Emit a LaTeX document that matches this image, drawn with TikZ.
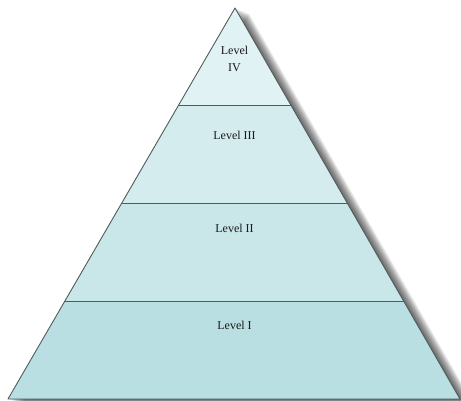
\documentclass[tikz,border=0pt]{standalone}
\usepackage{fontspec}
\setmainfont{Liberation Serif}
\usetikzlibrary{calc}

\definecolor{tierIV}{HTML}{E1F2F4}
\definecolor{tierIII}{HTML}{D5ECEE}
\definecolor{tierII}{HTML}{C9E6E9}
\definecolor{tierI}{HTML}{B9DFE2}
\definecolor{edgegray}{HTML}{4F5B5C}

\begin{document}
\begin{tikzpicture}[
    x=1pt, y=1pt,
    band/.style={draw=edgegray, line width=0.9pt, line join=round},
    tier/.style={font=\fontsize{12}{17}\selectfont, text=black!90, align=center, inner sep=0pt}
  ]
  \useasboundingbox (0,0) rectangle (461,401);

  % --- CANTOS DA PIRAMIDE ---
  \coordinate (bl) at (8,2);
  \coordinate (br) at (460,2);
  \coordinate (apex) at (235,393);

  % divisoes entre os niveis
  \foreach \i/\t in {1/0.25, 2/0.5, 3/0.75} {
    \coordinate (l\i) at ($(bl)!\t!(apex)$);
    \coordinate (r\i) at ($(br)!\t!(apex)$);
  }

  % --- SOMBRA ---
  \foreach \s in {1,...,14}
    \fill[black, opacity=0.06] ($(bl)+(\s,-0.4*\s)$) -- ($(br)+(\s,-0.4*\s)$) -- ($(apex)+(\s,-0.4*\s)$) -- cycle;

  % --- FAIXAS ---
  \fill[tierI] (bl) -- (br) -- (r1) -- (l1) -- cycle;
  \fill[tierII] (l1) -- (r1) -- (r2) -- (l2) -- cycle;
  \fill[tierIII] (l2) -- (r2) -- (r3) -- (l3) -- cycle;
  \fill[tierIV] (l3) -- (r3) -- (apex) -- cycle;

  \draw[band] (bl) -- (br) -- (apex) -- cycle;
  \foreach \i in {1,2,3}
    \draw[band] (l\i) -- (r\i);

  % --- ROTULOS ---
  \node[tier] (lvI) at (234.5,76) {Level I};
  \node[tier] (lvII) at (234.5,173) {Level II};
  \node[tier] (lvIII) at (234.5,266) {Level III};
  \node[tier] (lvIV) at (234.5,342) {Level\\IV};

\end{tikzpicture}
\end{document}
